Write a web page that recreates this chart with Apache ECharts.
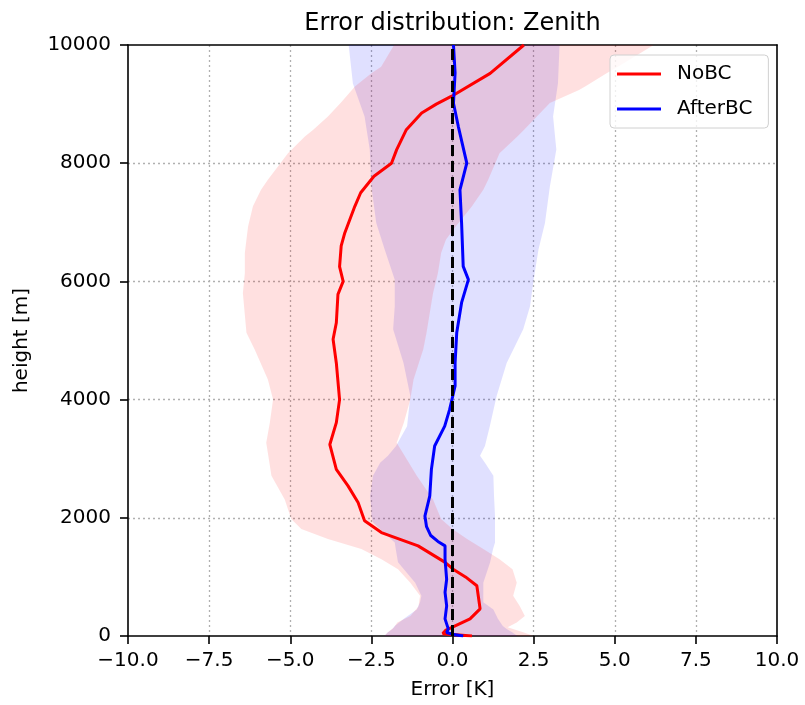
<!DOCTYPE html>
<html>
<head>
<meta charset="utf-8">
<title>Error distribution: Zenith</title>
<script src="https://cdn.jsdelivr.net/npm/echarts@6/dist/echarts.min.js"></script>
<style>
  html, body { margin: 0; padding: 0; background: #fff; }
  #chart { width: 805px; height: 705px; }
</style>
</head>
<body>
<div id="chart"></div>
<script>
// mean error profiles (height in m, error in K)
var noBcHeight = [0, 40, 100, 150, 290, 460, 850, 1000, 1130, 1250, 1525, 1750, 1950, 2260, 2540, 2820, 3240, 3610, 4000, 4620, 5020, 5300, 5780, 6000, 6250, 6600, 6820, 7270, 7500, 7780, 8000, 8230, 8560, 8850, 9000, 9130, 9520, 10000];
var noBcMean = [0.6, -0.3, -0.2, 0.0, 0.54, 0.85, 0.75, 0.4, 0.02, -0.24, -1.06, -2.19, -2.71, -2.91, -3.22, -3.58, -3.78, -3.58, -3.48, -3.58, -3.68, -3.58, -3.53, -3.37, -3.48, -3.43, -3.32, -3.01, -2.83, -2.42, -1.88, -1.72, -1.43, -0.95, -0.5, -0.04, 1.16, 2.2];

var afterBcHeight = [0, 30, 60, 120, 290, 510, 740, 960, 1300, 1525, 1600, 1700, 1850, 2030, 2370, 2820, 3215, 3550, 3830, 4230, 4620, 5130, 5640, 6030, 6255, 6990, 7550, 8000, 8620, 9015, 9530, 10000];
var afterBcMean = [0.33, 0.0, -0.18, -0.13, -0.23, -0.18, -0.23, -0.18, -0.23, -0.23, -0.45, -0.67, -0.8, -0.85, -0.7, -0.65, -0.55, -0.24, -0.09, 0.08, 0.08, 0.13, 0.28, 0.49, 0.33, 0.28, 0.23, 0.44, 0.18, 0.03, 0.08, 0.03];

// spread bands (low / high edge)
var noBcBandHeight = [0, 60, 150, 230, 340, 500, 680, 900, 1130, 1300, 1470, 1640, 1810, 1980, 2310, 2710, 3270, 3610, 4000, 4340, 4850, 5130, 5800, 6140, 6480, 6710, 6930, 7270, 7550, 7720, 8170, 8450, 8560, 8790, 9020, 9240, 9300, 9520, 9630, 10000];
var noBcLow = [-2.1, -2.0, -1.8, -1.7, -1.3, -1.05, -1.0, -1.3, -1.68, -2.19, -2.81, -3.84, -4.66, -4.97, -5.17, -5.58, -5.74, -5.63, -5.53, -5.69, -6.1, -6.35, -6.46, -6.4, -6.4, -6.35, -6.3, -6.15, -5.9, -5.69, -5.07, -4.55, -4.3, -3.84, -3.45, -3.1, -3.0, -2.5, -2.2, -1.8];
var noBcHigh = [2.5, 2.2, 1.7, 1.98, 2.23, 2.08, 1.87, 1.98, 1.85, 1.45, 0.95, 0.45, 0.0, -0.35, -0.6, -1.1, -1.72, -1.5, -1.3, -1.2, -0.9, -0.8, -0.6, -0.45, -0.35, -0.2, 0.1, 0.6, 0.95, 1.1, 1.45, 2.0, 2.2, 2.6, 3.0, 3.9, 4.1, 4.75, 5.1, 6.2];

var afterBcBandHeight = [0, 60, 120, 170, 290, 450, 570, 680, 900, 1250, 1470, 1580, 1640, 1920, 2030, 2150, 2370, 2710, 2930, 3050, 3215, 3550, 4060, 4620, 5190, 5580, 6030, 6540, 6990, 7600, 8230, 8790, 9350, 10000];
var afterBcLow = [-2.1, -2.0, -1.85, -1.78, -1.5, -1.1, -1.0, -0.96, -1.15, -1.68, -1.75, -1.78, -1.9, -2.45, -2.5, -2.5, -2.54, -2.45, -2.23, -1.99, -1.74, -1.4, -1.3, -1.51, -1.83, -1.78, -1.78, -2.09, -2.35, -2.5, -2.55, -2.71, -3.07, -3.2];
var afterBcHigh = [2.0, 1.85, 1.67, 1.55, 1.4, 1.26, 0.95, 0.95, 0.95, 1.16, 1.25, 1.31, 1.31, 1.31, 1.31, 1.3, 1.28, 1.26, 1.0, 0.85, 1.0, 1.15, 1.36, 1.67, 2.18, 2.39, 2.5, 2.65, 2.85, 3.0, 3.2, 3.1, 3.25, 3.3];

var zeroLine = [[0, 0], [0, 10000]];

var FONT = 'DejaVu Sans';

function pairs(xs, hs) {
  return hs.map(function (h, i) { return [xs[i], h]; });
}

// band polygon built from the axes' coord system
function bandSeries(heights, low, high, color) {
  return {
    type: 'custom',
    silent: true,
    z: 1,
    data: [0],
    renderItem: function (params, api) {
      var pts = [];
      for (var i = 0; i < heights.length; i++) pts.push(api.coord([low[i], heights[i]]));
      for (var j = heights.length - 1; j >= 0; j--) pts.push(api.coord([high[j], heights[j]]));
      return {
        type: 'polygon',
        shape: { points: pts },
        style: { fill: color, stroke: null }
      };
    }
  };
}

var gridLine = { show: true, showMinLine: false, showMaxLine: false, lineStyle: { color: '#b0b0b0', width: 1.3, type: [2, 3] } };
var spine = { show: true, onZero: false, lineStyle: { color: '#000', width: 1.6 } };
var tick = { show: true, length: 8, lineStyle: { color: '#000', width: 1.6 } };

var chart = echarts.init(document.getElementById('chart'));

var option = {
  animation: false,
  backgroundColor: '#fff',
  textStyle: { fontFamily: FONT },
  graphic: [{
    type: 'text',
    x: 452.5,
    y: 24,
    style: {
      text: 'Error distribution: Zenith',
      font: '24px "DejaVu Sans"',
      fill: '#000',
      align: 'center',
      verticalAlign: 'middle'
    }
  }],
  grid: {
    left: 128, right: 28, top: 45, bottom: 68
  },
  legend: {
    orient: 'vertical',
    left: 610,
    top: 55,
    padding: [9, 16, 9, 7],
    itemGap: 15,
    itemWidth: 44,
    itemHeight: 3,
    icon: 'rect',
    borderColor: '#d0d0d0',
    borderWidth: 1,
    borderRadius: 4,
    backgroundColor: 'rgba(255,255,255,0.8)',
    textStyle: { fontFamily: FONT, fontSize: 20, color: '#000', padding: [0, 0, 0, 11] },
    data: ['NoBC', 'AfterBC']
  },
  xAxis: [{
    type: 'value',
    min: -10, max: 10, interval: 2.5,
    name: 'Error [K]',
    nameLocation: 'middle',
    nameGap: 44,
    nameTextStyle: { fontFamily: FONT, fontSize: 20, color: '#000' },
    axisLine: spine,
    axisTick: tick,
    axisLabel: {
      margin: 15, fontFamily: FONT, fontSize: 20, color: '#000',
      formatter: function (v) { return v.toFixed(1).replace('-', '\u2212'); }
    },
    splitLine: gridLine
  }, {
    // top spine only
    type: 'value', position: 'top', min: -10, max: 10, interval: 2.5,
    axisLine: spine, axisTick: { show: false }, axisLabel: { show: false }, splitLine: { show: false }
  }],
  yAxis: [{
    type: 'value',
    min: 0, max: 10000, interval: 2000,
    name: 'height [m]',
    nameLocation: 'middle',
    nameGap: 96,
    nameTextStyle: { fontFamily: FONT, fontSize: 20, color: '#000' },
    axisLine: spine,
    axisTick: tick,
    axisLabel: {
      margin: 17, fontFamily: FONT, fontSize: 20, color: '#000',
      formatter: function (v) { return String(v); }
    },
    splitLine: gridLine
  }, {
    // right spine only
    type: 'value', position: 'right', min: 0, max: 10000, interval: 2000,
    axisLine: spine, axisTick: { show: false }, axisLabel: { show: false }, splitLine: { show: false }
  }],
  series: [
    bandSeries(afterBcBandHeight, afterBcLow, afterBcHigh, 'rgba(0,0,255,0.12)'),
    bandSeries(noBcBandHeight, noBcLow, noBcHigh, 'rgba(255,0,0,0.12)'),
    {
      name: 'NoBC',
      type: 'line',
      z: 3,
      symbol: 'none',
      color: '#ff0000',
      lineStyle: { color: '#ff0000', width: 3 },
      data: pairs(noBcMean, noBcHeight)
    },
    {
      name: 'AfterBC',
      type: 'line',
      z: 3,
      symbol: 'none',
      color: '#0000ff',
      lineStyle: { color: '#0000ff', width: 3 },
      data: pairs(afterBcMean, afterBcHeight)
    },
    {
      type: 'line',
      z: 4,
      symbol: 'none',
      silent: true,
      lineStyle: { color: '#000', width: 3, type: [11, 5] },
      data: zeroLine
    }
  ]
};

chart.setOption(option);
</script>
</body>
</html>
